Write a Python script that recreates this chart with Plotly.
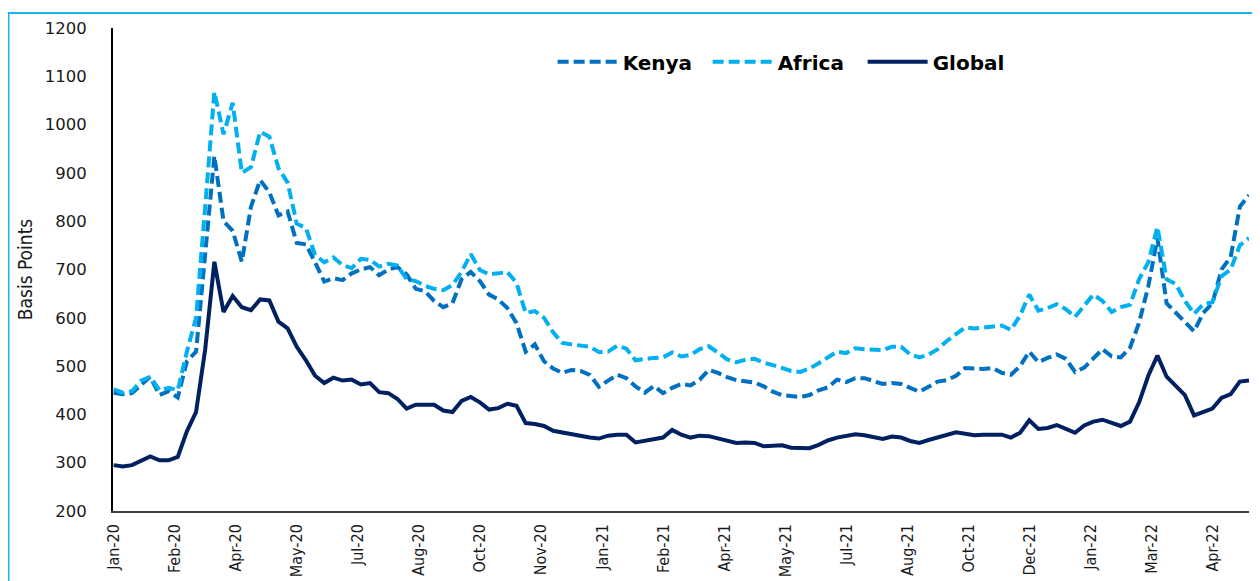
import pandas as pd
import numpy as np
import plotly.graph_objects as go

# Weekly observations starting 2 Jan 2020 (basis points)
start_date = "2020-01-02"

kenya = [445, 442, 444, 460, 478, 440, 448, 435, 510, 530,
         740, 935, 800, 780, 716, 830, 885, 860, 812, 820,
         755, 752, 715, 675, 682, 678, 692, 700, 705, 688,
         700, 705, 690, 660, 655, 635, 622, 630, 680, 695,
         676, 648, 638, 620, 589, 530, 545, 510, 495, 486,
         492, 490, 482, 457, 470, 482, 475, 458, 445, 459,
         444, 455, 463, 460, 472, 492, 486, 477, 471, 468,
         466, 458, 447, 440, 437, 436, 440, 450, 456, 472,
         467, 475, 475, 470, 463, 465, 463, 455, 447, 457,
         468, 471, 480, 496, 495, 494, 496, 486, 482, 500,
         530, 508, 517, 524, 515, 488, 497, 515, 535, 520,
         518, 538, 590, 665, 765, 630, 610, 592, 572, 610,
         630, 700, 726, 830, 854]

africa = [452, 445, 448, 470, 478, 450, 455, 450, 530, 600,
          830, 1068, 980, 1045, 900, 912, 985, 975, 910, 880,
          795, 786, 730, 715, 725, 709, 703, 722, 720, 706,
          712, 708, 680, 676, 666, 660, 657, 668, 695, 732,
          699, 690, 692, 695, 672, 610, 614, 600, 570, 548,
          545, 543, 540, 529, 530, 542, 536, 512, 515, 517,
          518, 528, 520, 523, 535, 541, 528, 514, 508, 513,
          515, 507, 502, 496, 490, 488, 495, 506, 518, 530,
          527, 537, 535, 533, 533, 540, 540, 524, 518, 524,
          535, 552, 566, 580, 578, 580, 581, 584, 575, 605,
          648, 615, 620, 628, 618, 602, 625, 648, 635, 612,
          622, 627, 680, 715, 788, 680, 670, 635, 608, 628,
          632, 686, 700, 750, 765]

global_ = [295, 292, 295, 305, 313, 305, 305, 312, 365, 405,
           535, 716, 612, 645, 622, 616, 638, 636, 592, 578,
           540, 512, 480, 465, 476, 470, 472, 462, 465, 446,
           444, 432, 412, 420, 420, 420, 408, 405, 428, 436,
           425, 410, 413, 422, 418, 382, 380, 376, 366, 362,
           360, 355, 352, 350, 356, 358, 358, 342, 346, 349,
           352, 368, 358, 352, 356, 355, 351, 345, 341, 342,
           341, 334, 336, 336, 331, 331, 330, 337, 346, 352,
           356, 359, 357, 352, 349, 354, 352, 345, 341, 347,
           353, 358, 363, 360, 357, 358, 358, 358, 352, 362,
           388, 370, 372, 378, 370, 362, 377, 385, 389, 382,
           376, 385, 425, 480, 522, 478, 458, 440, 398, 405,
           412, 434, 442, 468, 470]

tick_labels = ["Jan-20", "Feb-20", "Apr-20", "May-20", "Jul-20", "Aug-20",
               "Oct-20", "Nov-20", "Jan-21", "Feb-21", "Apr-21", "May-21",
               "Jul-21", "Aug-21", "Oct-21", "Dec-21", "Jan-22", "Mar-22",
               "Apr-22"]
tick_step_days = 46.7

dates = pd.date_range(start_date, periods=len(global_), freq="7D")
t0 = pd.Timestamp(start_date)
tick_vals = [t0 + pd.Timedelta(days=tick_step_days * i) for i in range(len(tick_labels))]

C_KENYA = "#0070C0"
C_AFRICA = "#00B0F0"
C_GLOBAL = "#002060"

NARROW = "Liberation Sans Narrow, DejaVu Sans Condensed, Roboto"

fig = go.Figure()
fig.add_trace(go.Scatter(x=dates, y=kenya, name="Kenya", mode="lines",
                         line=dict(color=C_KENYA, width=4, dash="11px,5px")))
fig.add_trace(go.Scatter(x=dates, y=africa, name="Africa", mode="lines",
                         line=dict(color=C_AFRICA, width=4, dash="11px,5px")))
fig.add_trace(go.Scatter(x=dates, y=global_, name="Global", mode="lines",
                         line=dict(color=C_GLOBAL, width=4)))

fig.update_layout(
    width=1260, height=581,
    margin=dict(l=105, r=19, t=20, b=78),
    paper_bgcolor="white", plot_bgcolor="white",
    showlegend=True,
    legend=dict(orientation="h", x=0.387, y=0.93, xanchor="left", yanchor="middle",
                font=dict(family="DejaVu Sans", size=20, color="black", weight="bold"),
                itemwidth=60, entrywidth=80, entrywidthmode="pixels",
                bgcolor="rgba(0,0,0,0)", traceorder="normal"),
    xaxis=dict(
        type="date", automargin=False,
        range=[t0 - pd.Timedelta(hours=12), t0 + pd.Timedelta(days=868)],
        tickvals=tick_vals, ticktext=tick_labels, tickangle=-90,
        showgrid=False, zeroline=False, showline=True, linecolor="#404040", linewidth=1.5,
        ticks="", ticklabelstandoff=5,
        tickfont=dict(family=NARROW, size=16, color="#1a1a1a"),
    ),
    yaxis=dict(
        range=[200, 1200], dtick=100, tick0=200, automargin=False,
        showgrid=False, zeroline=False, showline=True, linecolor="black", linewidth=2,
        ticks="", ticklabelstandoff=21,
        tickfont=dict(family="DejaVu Sans", size=16.5, color="#1a1a1a"),
        title=dict(text="Basis Points", standoff=7,
                   font=dict(family=NARROW, size=19, color="#1a1a1a")),
    ),
    shapes=[dict(type="rect", xref="paper", yref="paper",
                 x0=-0.0920, x1=1.03, y0=-0.25, y1=1.031,
                 line=dict(color="#1AB2EC", width=2), layer="below")],
)

fig.write_html("out.html")
